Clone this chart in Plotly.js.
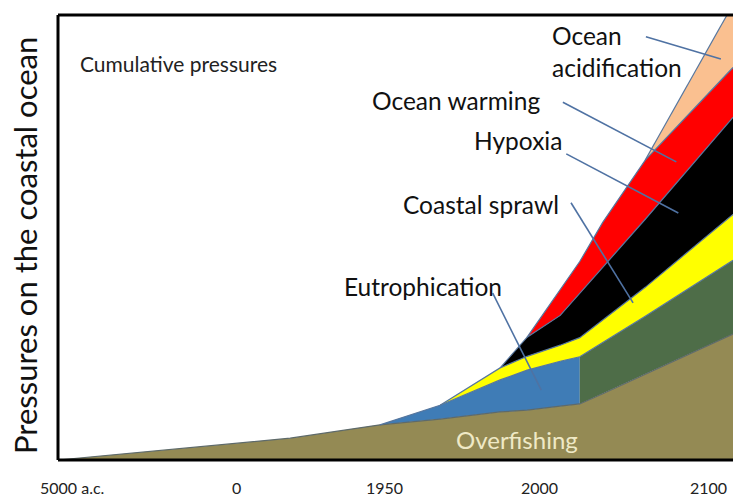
<!DOCTYPE html>
<html>
<head>
<meta charset="utf-8">
<script src="https://cdn.plot.ly/plotly-3.0.1.min.js"></script>
<style>html,body{margin:0;padding:0;background:#fff;}#chart{width:733px;height:500px;}</style>
</head>
<body>
<div id="chart"></div>
<script>
// Conceptual time positions (abstract scale 0..100 along the horizontal axis)
const xPos = [0, 34.4, 47.7, 56.6, 65.5, 69.5, 74.4, 77.3, 80.7, 87.0, 100];
// Pressure contributions (stacked, arbitrary units 0..100)
const overfishing        = [0, 4.9, 7.9, 9.2, 10.8, 11.2, 12.1, 12.6, 14.9, 19.3, 28.3];
const eutrophication     = [0, 0, 0, 3.1, 7.2, 9.0, 10.1, 10.6, 11.5, 13.0, 16.6];
const coastalSprawl      = [0, 0, 0, 0, 2.7, 3.1, 3.6, 4.3, 5.0, 6.5, 10.3];
const hypoxia            = [0, 0, 0, 0, 0, 4.3, 6.7, 9.9, 11.9, 15.3, 21.8];
const oceanWarming       = [0, 0, 0, 0, 0, 0, 5.6, 7.2, 10.1, 13.3, 11.2];
const oceanAcidification = [0, 0, 0, 0, 0, 0, 0, 0, 0, 0, 14.2];
const seriesNames = ['Overfishing', 'Eutrophication', 'Coastal sprawl', 'Hypoxia', 'Ocean warming', 'Ocean acidification'];
// Horizontal axis labels
const tickLabels = ['5000 a.c.', '0', '1950', '2000', '2100'];
const tickPositions = [2.1, 26.5, 48.4, 71.4, 96.4];
const eutrophicationFutureFrom = 77.3; // present-day break where eutrophication shading changes

const series = [overfishing, eutrophication, coastalSprawl, hypoxia, oceanWarming, oceanAcidification];
const fills = ['#948a54', '#3f7cb6', '#ffff00', '#000000', '#ff0000', '#fac090'];
const futureEutroFill = '#4e6d48';
const edge = '#56769e';

const traces = [];
const lineTraces = [];
let bottom = xPos.map(() => 0);
series.forEach((vals, s) => {
  const top = bottom.map((b, i) => b + vals[i]);
  let start = vals.findIndex(v => v > 0);
  start = Math.max(0, start - 1);
  const idx = [];
  for (let i = start; i < xPos.length; i++) idx.push(i);
  const segments = [];
  if (s === 1) {
    segments.push({ids: idx.filter(i => xPos[i] <= eutrophicationFutureFrom), color: fills[s]});
    segments.push({ids: idx.filter(i => xPos[i] >= eutrophicationFutureFrom), color: futureEutroFill});
  } else {
    segments.push({ids: idx, color: fills[s]});
  }
  segments.forEach(seg => {
    const xs = seg.ids.map(i => xPos[i]).concat(seg.ids.slice().reverse().map(i => xPos[i]));
    const ys = seg.ids.map(i => top[i]).concat(seg.ids.slice().reverse().map(i => bottom[i]));
    traces.push({x: xs, y: ys, type: 'scatter', mode: 'lines', fill: 'toself',
      fillcolor: seg.color, line: {width: 0, color: seg.color}, name: seriesNames[s],
      hoverinfo: 'skip', showlegend: false});
  });
  lineTraces.push({x: idx.map(i => xPos[i]), y: idx.map(i => top[i]), type: 'scatter', mode: 'lines',
    line: {width: 1.2, color: s === 0 ? '#5e6a6a' : edge}, hoverinfo: 'skip', showlegend: false});
  bottom = top;
});

const fam = 'Lato, "Open Sans", sans-serif';
const labelFont = {family: fam, size: 24.5, color: '#111'};
const annotations = [
  {text: 'Cumulative pressures', x: 17.8, y: 89.2, xref: 'x', yref: 'y', showarrow: false,
   font: {family: fam, size: 21, color: '#222'}},
  {text: 'Ocean<br>acidification', x: 72.9, y: 91.9, xref: 'x', yref: 'y', xanchor: 'left', align: 'left', showarrow: false, font: labelFont},
  {text: 'Ocean warming', x: 59.0, y: 80.7, xref: 'x', yref: 'y', showarrow: false, font: labelFont},
  {text: 'Hypoxia', x: 68.1, y: 71.7, xref: 'x', yref: 'y', showarrow: false, font: labelFont},
  {text: 'Coastal sprawl', x: 62.7, y: 57.5, xref: 'x', yref: 'y', showarrow: false, font: labelFont},
  {text: 'Eutrophication', x: 54.1, y: 38.9, xref: 'x', yref: 'y', showarrow: false, font: labelFont},
  {text: 'Overfishing', x: 68.0, y: 4.5, xref: 'x', yref: 'y', showarrow: false,
   font: {family: fam, size: 24, color: '#efe9c6'}},
  {text: 'Pressures on the coastal ocean', x: -0.049, y: 0.483, xref: 'paper', yref: 'paper',
   textangle: -90, showarrow: false, xanchor: 'center', yanchor: 'middle',
   font: {family: fam, size: 31, color: '#111'}}
];
tickLabels.forEach((t, i) => annotations.push({text: t, x: tickPositions[i], y: -0.062, xref: 'x', yref: 'paper',
  showarrow: false, yanchor: 'middle', borderpad: 0, font: {family: fam, size: 16, color: '#222'}}));

const leader = {color: '#4f72a3', width: 1.6};
const shapes = [
  {type: 'line', xref: 'x', yref: 'y', x0: 87.1, y0: 95.1, x1: 98.2, y1: 90.1, line: leader},
  {type: 'line', xref: 'x', yref: 'y', x0: 74.8, y0: 80.4, x1: 91.6, y1: 67.0, line: leader},
  {type: 'line', xref: 'x', yref: 'y', x0: 75.3, y0: 68.8, x1: 91.9, y1: 55.5, line: leader},
  {type: 'line', xref: 'x', yref: 'y', x0: 76.0, y0: 57.8, x1: 85.2, y1: 35.3, line: leader},
  {type: 'line', xref: 'x', yref: 'y', x0: 64.4, y0: 37.5, x1: 71.6, y1: 15.7, line: leader},
  {type: 'line', xref: 'paper', yref: 'paper', x0: 0, y0: 0, x1: 0, y1: 1, line: {color: '#000', width: 3}},
  {type: 'line', xref: 'paper', yref: 'paper', x0: 0, y0: 1, x1: 1, y1: 1, line: {color: '#000', width: 3}},
  {type: 'line', xref: 'paper', yref: 'paper', x0: 0, y0: 0, x1: 1, y1: 0, line: {color: '#000', width: 3}}
];

const layout = {
  width: 733, height: 500,
  margin: {l: 58, r: 0, t: 15, b: 40},
  paper_bgcolor: '#fff', plot_bgcolor: '#fff',
  showlegend: false, hovermode: false,
  xaxis: {range: [0, 100], showgrid: false, zeroline: false, showticklabels: false, showline: false, ticks: '', fixedrange: true},
  yaxis: {range: [0, 100], showgrid: false, zeroline: false, showticklabels: false, showline: false, ticks: '', fixedrange: true},
  annotations: annotations,
  shapes: shapes
};
Plotly.newPlot('chart', traces.concat(lineTraces), layout, {displayModeBar: false, staticPlot: true});
</script>
</body>
</html>
